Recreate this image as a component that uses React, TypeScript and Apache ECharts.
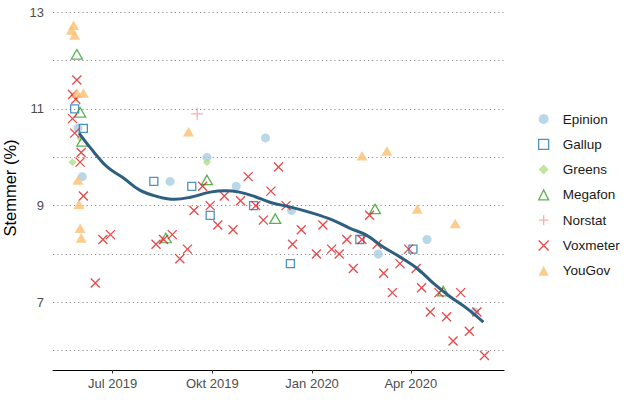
import React, { useEffect, useRef } from "react";
import * as echarts from "echarts";

// ---------- data ----------
const epinionDates = ["2019-05-30", "2019-06-03", "2019-08-23", "2019-09-26", "2019-10-23", "2019-11-19", "2019-12-13", "2020-03-02", "2020-04-16", "2020-05-30"];
const epinionValues = [10.6, 9.6, 9.5, 10.0, 9.4, 10.4, 8.9, 8.0, 8.3, 6.8];

const gallupDates = ["2019-05-27", "2019-06-04", "2019-08-08", "2019-09-12", "2019-09-29", "2019-11-08", "2019-12-12", "2020-02-14", "2020-04-03"];
const gallupValues = [11.0, 10.6, 9.5, 9.4, 8.8, 9.0, 7.8, 8.3, 8.1];

const greensDates = ["2019-05-25", "2019-06-01", "2019-09-26"];
const greensValues = [9.9, 10.4, 9.9];

const megafonDates = ["2019-05-29", "2019-06-01", "2019-06-03", "2019-08-19", "2019-09-26", "2019-11-28", "2020-02-28", "2020-05-01"];
const megafonValues = [12.1, 10.9, 10.3, 8.3, 9.5, 8.7, 8.9, 7.2];

const norstatDates = ["2019-09-17"];
const norstatValues = [10.9];

const voxmeterDates = [
  "2019-05-29", "2019-05-25", "2019-05-28", "2019-05-25", "2019-05-27", "2019-06-02", "2019-06-01", "2019-06-04",
  "2019-06-15", "2019-06-22", "2019-06-29", "2019-08-10", "2019-08-17", "2019-08-25", "2019-09-01", "2019-09-08",
  "2019-09-14", "2019-09-22", "2019-09-29", "2019-10-06", "2019-10-12", "2019-10-20", "2019-10-27", "2019-11-03",
  "2019-11-10", "2019-11-17", "2019-11-24", "2019-12-01", "2019-12-08", "2019-12-14", "2019-12-22", "2020-01-05",
  "2020-01-11", "2020-01-19", "2020-01-26", "2020-02-02", "2020-02-08", "2020-02-16", "2020-02-23", "2020-03-01",
  "2020-03-07", "2020-03-15", "2020-03-22", "2020-03-30", "2020-04-06", "2020-04-11", "2020-04-19", "2020-04-27",
  "2020-05-04", "2020-05-10", "2020-05-17", "2020-05-25", "2020-06-01", "2020-06-08",
];
const voxmeterValues = [
  11.6, 11.3, 11.2, 10.8, 10.5, 10.1, 9.9, 9.2,
  7.4, 8.3, 8.4, 8.2, 8.3, 8.4, 7.9, 8.1,
  8.9, 9.4, 9.0, 8.6, 9.2, 8.5, 9.1, 9.6,
  9.0, 8.7, 9.3, 9.8, 9.0, 8.2, 8.5, 8.0,
  8.6, 8.1, 8.0, 8.3, 7.7, 8.3, 8.8, 8.2,
  7.6, 7.2, 7.8, 8.1, 7.7, 7.3, 6.8, 7.2,
  6.7, 6.2, 7.2, 6.4, 6.8, 5.9,
];

const yougovDates = ["2019-05-26", "2019-05-24", "2019-05-27", "2019-05-29", "2019-06-04", "2019-05-30", "2019-05-31", "2019-06-01", "2019-06-02", "2019-09-09", "2020-02-16", "2020-03-10", "2020-04-07", "2020-05-12"];
const yougovValues = [12.7, 12.6, 12.5, 11.3, 11.3, 9.5, 9.0, 8.5, 8.3, 10.5, 10.0, 10.1, 8.9, 8.6];

// smoothed trend
const trendDates = [
  "2019-05-31", "2019-06-10", "2019-06-26", "2019-07-11", "2019-07-26", "2019-08-11", "2019-08-27", "2019-09-10",
  "2019-09-29", "2019-10-13", "2019-10-26", "2019-11-09", "2019-11-23", "2019-12-12", "2019-12-30", "2020-01-20",
  "2020-02-05", "2020-02-20", "2020-03-07", "2020-03-22", "2020-04-07", "2020-04-22", "2020-05-07", "2020-05-23", "2020-06-07",
];
const trendValues = [
  10.5, 10.21, 9.8, 9.57, 9.32, 9.19, 9.13, 9.17,
  9.28, 9.31, 9.28, 9.19, 9.07, 8.97, 8.86, 8.7,
  8.53, 8.39, 8.14, 7.94, 7.7, 7.39, 7.12, 6.87, 6.59,
];

const xTickDates = ["2019-07-01", "2019-10-01", "2020-01-01", "2020-04-01"];
const xTickLabels = ["Jul 2019", "Okt 2019", "Jan 2020", "Apr 2020"];
const xRange = ["2019-05-07", "2020-06-26"];
const yTickLabels = [7, 9, 11, 13];
const yRange = [5.6, 13.13];
const yTitle = "Stemmer (%)";

// ---------- helpers ----------
function ts(s: string): number {
  const [y, m, d] = s.split("-").map(Number);
  return Date.UTC(y, m - 1, d);
}
function pairs(dates: string[], values: number[]) {
  return dates.map((d, i) => [ts(d), values[i]]);
}

const DAY = 24 * 3600 * 1000;
const CROSS = "path://M0,0L10,10M10,0L0,10";
const PLUS = "path://M5,0L5,10M0,5L10,5";
const FONT = "'Liberation Sans', Arial, Helvetica, sans-serif";

export default function App() {
  const ref = useRef<HTMLDivElement>(null);

  useEffect(() => {
    document.body.style.margin = "0";
    const chart = echarts.init(ref.current!, null, { renderer: "svg" });
    const tickTs = xTickDates.map(ts);

    const pollSeries = [
      {
        name: "Epinion",
        data: pairs(epinionDates, epinionValues),
        symbol: "circle",
        symbolSize: 9,
        itemStyle: { color: "#a6cee3" },
      },
      {
        name: "Gallup",
        data: pairs(gallupDates, gallupValues),
        symbol: "rect",
        symbolSize: 8,
        itemStyle: { color: "rgba(255,255,255,0)", borderColor: "#1f78b4", borderWidth: 1.3 },
      },
      {
        name: "Greens",
        data: pairs(greensDates, greensValues),
        symbol: "diamond",
        symbolSize: 8,
        itemStyle: { color: "#b2df8a" },
      },
      {
        name: "Megafon",
        data: pairs(megafonDates, megafonValues),
        symbol: "triangle",
        symbolSize: [11, 9.5],
        symbolOffset: [0, -1.5],
        itemStyle: { color: "rgba(255,255,255,0)", borderColor: "#33a02c", borderWidth: 1.3 },
      },
      {
        name: "Norstat",
        data: pairs(norstatDates, norstatValues),
        symbol: PLUS,
        symbolSize: 12,
        itemStyle: { color: "rgba(255,255,255,0)", borderColor: "#fb9a99", borderWidth: 1.3 },
      },
      {
        name: "Voxmeter",
        data: pairs(voxmeterDates, voxmeterValues),
        symbol: CROSS,
        symbolSize: 9,
        itemStyle: { color: "rgba(255,255,255,0)", borderColor: "#e31a1c", borderWidth: 1.3 },
      },
      {
        name: "YouGov",
        data: pairs(yougovDates, yougovValues),
        symbol: "triangle",
        symbolSize: [11, 9.5],
        symbolOffset: [0, -1.5],
        itemStyle: { color: "#fdbf6f" },
      },
    ].map((s) => ({ ...s, type: "scatter", z: 2, emphasis: { disabled: true } }));

    const legendData = [
      { name: "Epinion", icon: "circle" },
      { name: "Gallup", icon: "rect", itemStyle: { borderWidth: 1.3 } },
      { name: "Greens", icon: "diamond" },
      { name: "Megafon", icon: "triangle", itemStyle: { borderWidth: 1.3 } },
      { name: "Norstat", icon: PLUS, itemStyle: { borderWidth: 1.3 } },
      { name: "Voxmeter", icon: CROSS, itemStyle: { borderWidth: 1.3 } },
      { name: "YouGov", icon: "triangle" },
    ];

    chart.setOption({
      animation: false,
      useUTC: true,
      backgroundColor: "#ffffff",
      textStyle: { fontFamily: FONT },
      grid: { left: 53, right: 138, top: 6, bottom: 30, containLabel: false, outerBoundsMode: "none" },
      legend: {
        orient: "vertical",
        left: 538,
        top: 112,
        padding: 0,
        itemWidth: 10,
        itemHeight: 10,
        itemGap: 11.3,
        selectedMode: false,
        data: legendData,
        textStyle: { fontSize: 13.5, color: "#1a1a1a", fontFamily: FONT, padding: [0, 0, 0, 9], lineHeight: 14 },
      },
      xAxis: {
        type: "time",
        position: "bottom",
        min: ts(xRange[0]),
        max: ts(xRange[1]),
        splitNumber: 4,
        minInterval: 80 * DAY,
        maxInterval: 100 * DAY,
        axisLine: { show: true, onZero: false, lineStyle: { color: "#000000", width: 1.2 } },
        axisTick: { show: true, length: 3.5, lineStyle: { color: "#333333", width: 1 } },
        minorTick: { show: false },
        axisLabel: {
          color: "#4d4d4d",
          fontSize: 13,
          margin: 7,
          fontFamily: FONT,
          hideOverlap: false,
          showMinLabel: false,
          showMaxLabel: false,
          formatter: (v: number) => {
            const i = tickTs.findIndex((t) => Math.abs(t - v) < DAY / 2);
            return i >= 0 ? xTickLabels[i] : "";
          },
        },
        splitLine: { show: false },
      },
      yAxis: {
        type: "value",
        min: yRange[0],
        max: yRange[1],
        minInterval: 1,
        maxInterval: 1,
        name: yTitle,
        nameLocation: "middle",
        nameGap: 29,
        nameTextStyle: { fontSize: 16.5, color: "#000000", fontFamily: FONT },
        axisLine: { show: false, onZero: false },
        axisTick: { show: false },
        axisLabel: {
          color: "#4d4d4d",
          fontSize: 13,
          margin: 9,
          fontFamily: FONT,
          showMinLabel: false,
          showMaxLabel: false,
          formatter: (v: number) => (yTickLabels.includes(v) ? String(v) : ""),
        },
        splitLine: {
          show: true,
          showMinLine: false,
          showMaxLine: false,
          lineStyle: { type: [1.2, 3], color: "#8c8c8c", width: 1.2 },
        },
      },
      series: [
        ...pollSeries,
        {
          name: "trend",
          type: "line",
          data: pairs(trendDates, trendValues),
          smooth: 0.4,
          showSymbol: false,
          z: 5,
          lineStyle: { color: "#2e5f80", width: 3 },
          emphasis: { disabled: true },
        },
      ],
    });

    return () => chart.dispose();
  }, []);

  return <div ref={ref} style={{ width: 642, height: 400 }} />;
}
